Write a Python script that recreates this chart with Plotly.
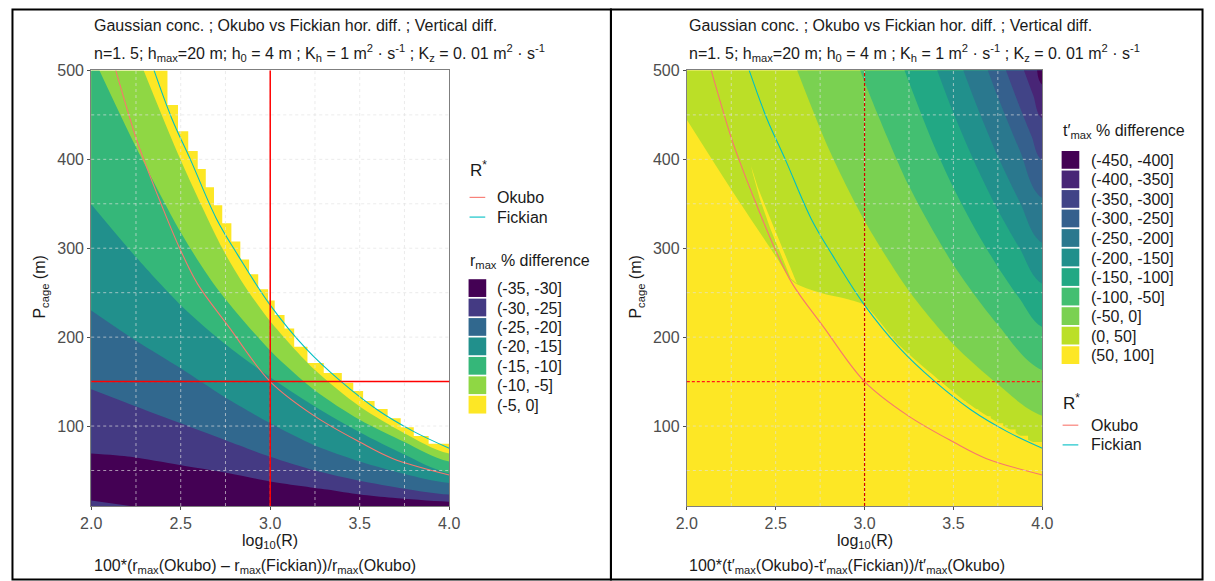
import plotly.graph_objects as go

# ---------------- data ----------------
x_ticks = [2.0, 2.5, 3.0, 3.5, 4.0]
x_tick_text = ["2.0", "2.5", "3.0", "3.5", "4.0"]
y_ticks = [100, 200, 300, 400, 500]
x_minor = [2.25, 2.5, 2.75, 3.0, 3.25, 3.5, 3.75]
y_minor = [50, 100, 150, 200, 250, 300, 350, 400, 450]
x_range = [2.0, 4.0]
y_range = [10, 500]
ref_log10R = 3.0
ref_Pcage = 150

# R* curves
okubo_lx = [2.137, 2.247, 2.293, 2.39, 2.494, 2.595, 2.769, 3.0, 3.244, 3.5, 3.683, 4.0]
okubo_p = [500, 426, 400, 350, 300, 259.6, 211.5, 150, 111.7, 82, 63.6, 45]
fick_lx = [2.351, 2.45, 2.558, 2.7, 2.82, 3.0, 3.2, 3.39, 3.6, 3.8, 4.0]
fick_p = [500, 446, 398, 333, 292, 236, 187, 151, 118, 94, 75]

# left panel: r_max % difference, upper boundary of each band
left_labels = ["(-35, -30]", "(-30, -25]", "(-25, -20]", "(-20, -15]",
               "(-15, -10]", "(-10, -5]", "(-5, 0]"]
l_edge_lx = [2.426, 2.485, 2.542, 2.595, 2.640, 2.686, 2.732, 2.783, 2.833, 2.882,
             2.933, 2.988, 3.025, 3.08, 3.134, 3.208, 3.299, 3.40, 3.464, 3.519,
             3.583, 3.656, 3.729, 3.802, 3.885, 4.0]
l_edge_p = [500, 461.2, 431.6, 409.4, 389.1, 368.7, 348.4, 328, 307.7, 287.4,
            270.7, 254, 241.1, 225, 209.7, 189.3, 170.9, 159.7, 148.7, 139.4,
            128.3, 119.1, 108.7, 98.7, 88.8, 80.2]
l_b5_lx = [2.293, 2.498, 2.732, 2.851, 3.0, 3.25, 3.5, 3.75, 4.0]
l_b5_p = [500, 400, 300, 259.6, 218, 163, 122, 92, 69.2]
l_b10_lx = [2.046, 2.247, 2.5, 2.695, 3.0, 3.25, 3.5, 3.75, 4.0]
l_b10_p = [500, 415, 318, 257, 185, 140, 107, 82, 60]
l_b15_lx = [2.0, 2.25, 2.5, 2.75, 3.0, 3.25, 3.5, 3.75, 4.0]
l_b15_p = [349.5, 290, 236, 192, 155, 122, 93, 68, 47]
l_b20_lx = [2.0, 2.25, 2.5, 2.75, 3.0, 3.25, 3.5, 3.75, 4.0]
l_b20_p = [230, 196, 165, 132, 103, 78, 60, 46, 36]
l_b25_lx = [2.0, 2.25, 2.5, 2.75, 3.0, 3.25, 3.5, 3.75, 4.0]
l_b25_p = [141.3, 122, 103, 84, 65.5, 50, 38.5, 29.5, 22.9]
l_b30_lx = [2.0, 2.22, 2.494, 2.769, 3.0, 3.317, 3.5, 3.683, 4.0]
l_b30_p = [69.2, 65.5, 56.2, 47.0, 37.7, 28.5, 22.9, 19.2, 14.8]
l_b35_lx = [2.0, 2.22]
l_b35_p = [16.3, 10]

# right panel: t'_max % difference, lower boundary of each band
right_labels = ["(-450, -400]", "(-400, -350]", "(-350, -300]", "(-300, -250]",
                "(-250, -200]", "(-200, -150]", "(-150, -100]", "(-100, -50]",
                "(-50, 0]", "(0, 50]", "(50, 100]"]
r_b50_lx = [2.0, 2.25, 2.5, 2.6, 2.75, 2.9, 3.0, 3.2, 3.4, 3.6, 3.8, 4.0]
r_b50_p = [444.5, 366, 291, 262, 250, 243, 236, 190, 155, 123, 98, 79]
r_sliver_lx = [2.361, 2.40, 2.46, 2.52, 2.58, 2.62, 2.585, 2.53, 2.47, 2.41, 2.37]
r_sliver_p = [392.7, 368, 338, 308, 280, 260, 266, 292, 322, 356, 385]
r_bump_lx = [3.36, 3.43, 3.50, 3.57, 3.64, 3.71, 3.78, 3.85, 3.92, 4.0]
r_bump_p = [158, 147, 137, 128, 119, 111, 103, 96, 89, 82]
r_b0_lx = [2.621, 2.8, 3.0, 3.25, 3.5, 3.75, 4.0]
r_b0_p = [500, 411, 331, 252, 192, 147, 111.7]
r_bm50_lx = [2.976, 3.0, 3.25, 3.5, 3.75, 4.0]
r_bm50_p = [500, 487, 370, 281.5, 214, 162.7]
r_bm100_lx = [3.225, 3.375, 3.5, 3.625, 3.75, 3.875, 4.0]
r_bm100_p = [500, 423, 368, 320.6, 279, 242.7, 211.5]
r_bm150_lx = [3.409, 3.5, 3.625, 3.75, 3.875, 4.0]
r_bm150_p = [500, 452, 394, 343, 299, 260]
r_bm200_lx = [3.556, 3.625, 3.75, 3.875, 4.0]
r_bm200_p = [500, 463.5, 403.5, 351.5, 306]
r_bm250_lx = [3.694, 3.75, 3.875, 4.0]
r_bm250_p = [500, 470, 409.5, 356.5]
r_bm300_lx = [3.796, 3.875, 3.94, 4.0]
r_bm300_p = [500, 458, 426, 399]
r_bm350_lx = [3.897, 3.95, 4.0]
r_bm350_p = [500, 471.6, 446]
r_bm400_lx = [3.971, 4.0]
r_bm400_p = [500, 484]

# ---------------- style ----------------
VIR7 = ["#440154", "#443A83", "#31688E", "#21908C", "#35B779", "#8FD744", "#FDE725"]
VIR11 = ["#440154", "#482576", "#414487", "#35608D", "#2A788E", "#21908C",
         "#22A884", "#43BF71", "#7AD151", "#BBDF27", "#FDE725"]
OKUBO_C = "#F8766D"
FICK_C = "#00BFC4"
FONT = "Liberation Sans, Arial, sans-serif"
FS = 16
W, H = 1215, 581


def fx(x):
    return x / W


def fy(y):
    return 1 - y / H


L_DOM = [fx(81.7), fx(446.3)]
R_DOM = [fx(688.3), fx(1050.3)]
Y_DOM = [fy(505), fy(63.3)]

fig = go.Figure()


def add_fill(xs, ys, color, xa, ya, shape="spline"):
    fig.add_trace(go.Scatter(
        x=xs, y=ys, mode="lines", fill="toself", fillcolor=color,
        line=dict(width=0, color=color, shape=shape, smoothing=0.8),
        hoverinfo="skip", showlegend=False, xaxis=xa, yaxis=ya))


def below(xs, ps):
    return list(xs) + [5, 5, 1, 1], list(ps) + [ps[-1], -300, -300, ps[0]]


def above(xs, ps):
    return list(xs) + [5, 5, xs[0]], list(ps) + [ps[-1], 900, 900]


# ---- left panel fills ----
bx, by = below(l_edge_lx, l_edge_p)
add_fill(bx, by, VIR7[6], "x", "y", shape="vh")
for (lx, lp), col in zip([(l_b5_lx, l_b5_p), (l_b10_lx, l_b10_p), (l_b15_lx, l_b15_p),
                          (l_b20_lx, l_b20_p), (l_b25_lx, l_b25_p), (l_b30_lx, l_b30_p)],
                         [VIR7[5], VIR7[4], VIR7[3], VIR7[2], VIR7[1], VIR7[0]]):
    bx, by = below(lx, lp)
    add_fill(bx, by, col, "x", "y")
bx, by = below(l_b35_lx, l_b35_p)
add_fill(bx, by, VIR7[1], "x", "y", shape="linear")

# ---- right panel fills ----
bx, by = above(r_b50_lx, r_b50_p)
add_fill(bx, by, VIR11[9], "x2", "y2")
add_fill(r_sliver_lx, r_sliver_p, VIR11[10], "x2", "y2", shape="linear")
bx, by = below(r_bump_lx, r_bump_p)
add_fill(bx, by, VIR11[10], "x2", "y2", shape="vh")
for (lx, lp), col in zip([(r_b0_lx, r_b0_p), (r_bm50_lx, r_bm50_p), (r_bm100_lx, r_bm100_p),
                          (r_bm150_lx, r_bm150_p), (r_bm200_lx, r_bm200_p),
                          (r_bm250_lx, r_bm250_p), (r_bm300_lx, r_bm300_p),
                          (r_bm350_lx, r_bm350_p), (r_bm400_lx, r_bm400_p)],
                         VIR11[8::-1]):
    bx, by = above(lx, lp)
    add_fill(bx, by, col, "x2", "y2")

# ---- R* curves ----
for xa, ya in [("x", "y"), ("x2", "y2")]:
    fig.add_trace(go.Scatter(x=okubo_lx, y=okubo_p, mode="lines",
                             line=dict(color=OKUBO_C, width=1.1, shape="spline"),
                             showlegend=False, hoverinfo="skip", xaxis=xa, yaxis=ya))
    fig.add_trace(go.Scatter(x=fick_lx, y=fick_p, mode="lines",
                             line=dict(color=FICK_C, width=1.1, shape="spline"),
                             showlegend=False, hoverinfo="skip", xaxis=xa, yaxis=ya))

shapes = []
# right panel yellow background
shapes.append(dict(type="rect", xref="x2 domain", yref="y2 domain", x0=0, x1=1, y0=0, y1=1,
                   fillcolor=VIR11[10], line=dict(width=0), layer="below"))

# grid lines on top
GRID = "rgba(225,225,225,0.65)"
for xa, ya in [("x", "y"), ("x2", "y2")]:
    for gx in x_minor:
        shapes.append(dict(type="line", xref=xa, yref=ya + " domain", x0=gx, x1=gx, y0=0, y1=1,
                           line=dict(color=GRID, width=1, dash="dot"), layer="above"))
    for gy in y_minor:
        if xa == "x2" and gy == ref_Pcage:
            continue
        shapes.append(dict(type="line", xref=xa + " domain", yref=ya, x0=0, x1=1, y0=gy, y1=gy,
                           line=dict(color=GRID, width=1, dash="dot"), layer="above"))

# reference cross
shapes.append(dict(type="line", xref="x", yref="y domain", x0=ref_log10R, x1=ref_log10R, y0=0, y1=1,
                   line=dict(color="#FF0000", width=1.5), layer="above"))
shapes.append(dict(type="line", xref="x domain", yref="y", x0=0, x1=1, y0=ref_Pcage, y1=ref_Pcage,
                   line=dict(color="#FF0000", width=1.5), layer="above"))
shapes.append(dict(type="line", xref="x2", yref="y2 domain", x0=ref_log10R, x1=ref_log10R, y0=0, y1=1,
                   line=dict(color="#D40000", width=1.2, dash="3px,2px"), layer="above"))
shapes.append(dict(type="line", xref="x2 domain", yref="y2", x0=0, x1=1, y0=ref_Pcage, y1=ref_Pcage,
                   line=dict(color="#FF1A1A", width=1.3, dash="3px,2px"), layer="above"))

# panel frames (black boxes)
shapes.append(dict(type="rect", xref="paper", yref="paper", x0=fx(1.5), x1=fx(611), y0=fy(579.5), y1=fy(1.5),
                   line=dict(color="black", width=2), fillcolor="rgba(0,0,0,0)"))
shapes.append(dict(type="rect", xref="paper", yref="paper", x0=fx(611), x1=fx(1213.5), y0=fy(579.5), y1=fy(1.5),
                   line=dict(color="black", width=2), fillcolor="rgba(0,0,0,0)"))

annotations = []


def text(x, y, s, size=FS, color="#1A1A1A", anchor="left", angle=0):
    annotations.append(dict(x=fx(x), y=fy(y), xref="paper", yref="paper", text=s, showarrow=False,
                            xanchor=anchor, yanchor="middle", textangle=angle,
                            font=dict(family=FONT, size=size, color=color)))


title1 = "Gaussian conc. ; Okubo vs Fickian hor. diff. ; Vertical diff."
title2 = ("n=1. 5; h<sub>max</sub>=20 m; h<sub>0</sub> = 4 m ; K<sub>h</sub> = 1 m<sup>2</sup> · s<sup>-1</sup> ; "
          "K<sub>z</sub> = 0. 01 m<sup>2</sup> · s<sup>-1</sup>")
for x0 in [82, 688]:
    text(x0, 18, title1)
    text(x0, 46, title2)

text(264, 541, "log<sub>10</sub>(R)", anchor="center")
text(869.3, 541, "log<sub>10</sub>(R)", anchor="center")
text(30, 283, "P<sub>cage</sub> (m)", anchor="center", angle=-90)
text(637, 283, "P<sub>cage</sub> (m)", anchor="center", angle=-90)

text(82, 566, "100*(r<sub>max</sub>(Okubo) – r<sub>max</sub>(Fickian))/r<sub>max</sub>(Okubo)")
text(688, 566, "100*(t′<sub>max</sub>(Okubo)-t′<sub>max</sub>(Fickian))/t′<sub>max</sub>(Okubo)")

# left legends
text(465, 163, "R<sup>*</sup>", size=17)
shapes.append(dict(type="line", xref="paper", yref="paper", x0=fx(467), x1=fx(483), y0=fy(192), y1=fy(192),
                   line=dict(color=OKUBO_C, width=1.1)))
text(493, 192, "Okubo")
shapes.append(dict(type="line", xref="paper", yref="paper", x0=fx(467), x1=fx(483), y0=fy(212), y1=fy(212),
                   line=dict(color=FICK_C, width=1.1)))
text(493, 212, "Fickian")
text(465, 257, "r<sub>max</sub> % difference")
for i, lab in enumerate(left_labels):
    top = 275 + i * 19.7
    shapes.append(dict(type="rect", xref="paper", yref="paper", x0=fx(466), x1=fx(484),
                       y0=fy(top + 18), y1=fy(top), fillcolor=VIR7[i], line=dict(width=0)))
    text(493, top + 9.5, lab)

# right legends
text(1069, 125, "t′<sub>max</sub> % difference")
for i, lab in enumerate(right_labels):
    top = 145 + i * 19.8
    shapes.append(dict(type="rect", xref="paper", yref="paper", x0=fx(1070), x1=fx(1088),
                       y0=fy(top + 18), y1=fy(top), fillcolor=VIR11[i], line=dict(width=0)))
    text(1098, top + 9.5, lab)
text(1069, 399, "R<sup>*</sup>", size=17)
shapes.append(dict(type="line", xref="paper", yref="paper", x0=fx(1071), x1=fx(1087), y0=fy(423), y1=fy(423),
                   line=dict(color=OKUBO_C, width=1.1)))
text(1098, 423, "Okubo")
shapes.append(dict(type="line", xref="paper", yref="paper", x0=fx(1071), x1=fx(1087), y0=fy(443), y1=fy(443),
                   line=dict(color=FICK_C, width=1.1)))
text(1098, 443, "Fickian")

axis_common = dict(showline=True, mirror=True, linecolor="#7F7F7F", linewidth=1,
                   ticks="outside", ticklen=3, tickcolor="#4D4D4D", showgrid=False, zeroline=False,
                   tickfont=dict(family=FONT, size=FS, color="#4D4D4D"))

fig.update_layout(
    width=W, height=H, margin=dict(l=0, r=0, t=0, b=0),
    paper_bgcolor="white", plot_bgcolor="white", showlegend=False,
    xaxis=dict(domain=L_DOM, range=x_range, tickvals=x_ticks, ticktext=x_tick_text, anchor="y", **axis_common),
    yaxis=dict(domain=Y_DOM, range=y_range, tickvals=y_ticks, anchor="x", **axis_common),
    xaxis2=dict(domain=R_DOM, range=x_range, tickvals=x_ticks, ticktext=x_tick_text, anchor="y2", **axis_common),
    yaxis2=dict(domain=Y_DOM, range=y_range, tickvals=y_ticks, anchor="x2", **axis_common),
    shapes=shapes, annotations=annotations,
)

fig.write_html("out.html", config={"displayModeBar": False},
               post_script="document.body.style.margin='0px';document.body.style.overflow='hidden';")
